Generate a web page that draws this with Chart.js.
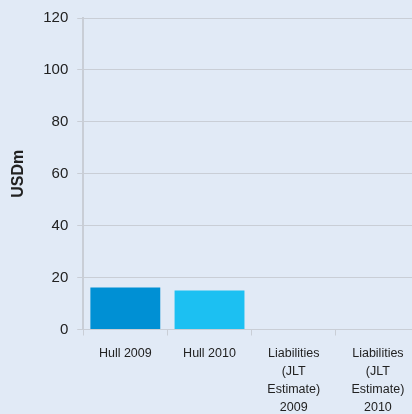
<!DOCTYPE html>
<html>
<head>
<meta charset="utf-8">
<script src="https://cdn.jsdelivr.net/npm/chart.js@4"></script>
<style>
  html, body { margin: 0; padding: 0; background: #e1eaf6; overflow: hidden; }
  #wrap { width: 420px; height: 426px; position: relative; }
</style>
</head>
<body>
<div id="wrap"><canvas id="chart"></canvas></div>
<script>
const categories = [
  "Hull 2009",
  "Hull 2010",
  ["Liabilities", "(JLT", "Estimate)", "2009"],
  ["Liabilities", "(JLT", "Estimate)", "2010"]
]
const values = [16.2, 15.0, 0, 0]
const barColors = ["#0090d4", "#1cc0f2", "#0090d4", "#1cc0f2"]
const yTicks = { min: 0, max: 120, step: 20 }

new Chart(document.getElementById("chart"), {
  type: "bar",
  data: {
    labels: categories,
    datasets: [{
      data: values,
      backgroundColor: barColors,
      borderWidth: 0,
      categoryPercentage: 0.83,
      barPercentage: 1
    }]
  },
  options: {
    responsive: true,
    maintainAspectRatio: false,
    animation: false,
    layout: { padding: { top: 9, left: 3, right: 0, bottom: 0 } },
    plugins: { legend: { display: false }, tooltip: { enabled: false } },
    scales: {
      x: {
        grid: { drawOnChartArea: false, color: "#c9ced6", tickLength: 6, offset: true },
        border: { color: "#c9ced6", width: 1 },
        ticks: { color: "#222", font: { family: "Liberation Sans, Arial", size: 12.5, lineHeight: 1.45 }, maxRotation: 0, autoSkip: false, padding: 9 }
      },
      y: {
        min: yTicks.min,
        max: yTicks.max,
        ticks: { stepSize: yTicks.step, color: "#222", font: { family: "Liberation Sans, Arial", size: 15 }, padding: 9 },
        grid: { color: "#c9ced6", tickLength: 6 },
        border: { color: "#c9ced6", width: 2 },
        title: { display: true, text: "USDm", color: "#222", font: { family: "Liberation Sans, Arial", size: 16, weight: "bold" }, padding: { top: 6, bottom: 6 } }
      }
    }
  }
})
</script>
</body>
</html>
